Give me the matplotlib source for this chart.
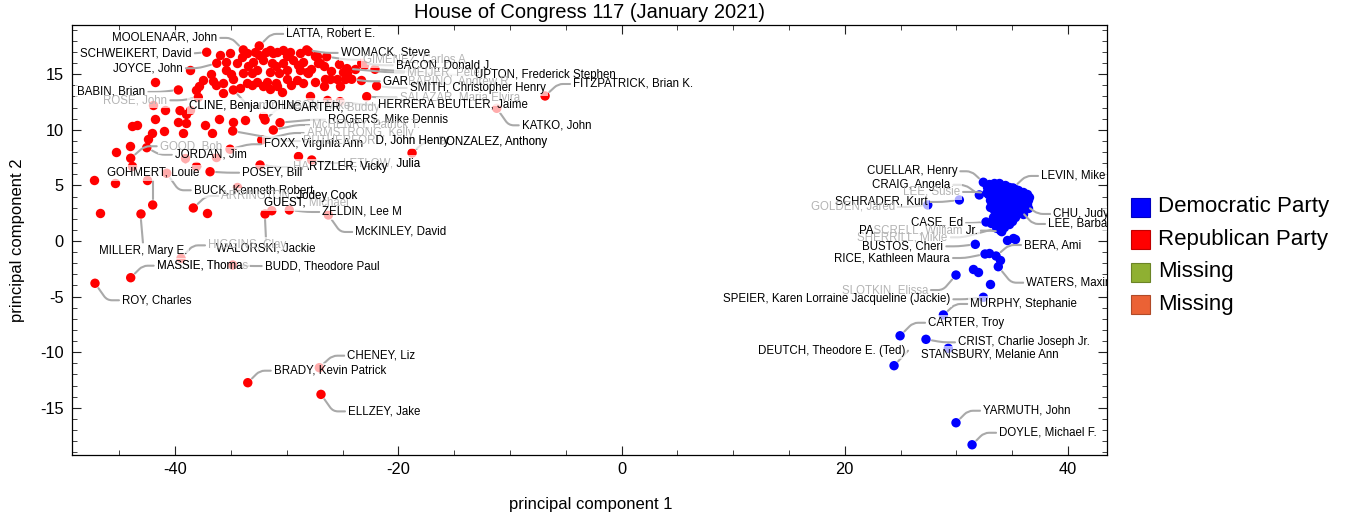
import matplotlib
matplotlib.use('Agg')
import matplotlib.pyplot as plt
import numpy as np
from matplotlib.path import Path
from matplotlib.patches import PathPatch, Rectangle
from matplotlib.transforms import IdentityTransform, Bbox
from matplotlib.font_manager import FontProperties
from matplotlib.ticker import MultipleLocator

# ---------------- data ----------------
title = "House of Congress 117 (January 2021)"
xlabel = "principal component 1"
ylabel = "principal component 2"

legend_names = ["Democratic Party", "Republican Party", "Missing", "Missing"]
legend_colors = ["#0000ff", "#ff0000", "#8fb032", "#eb6235"]

rep_x = [-31.9, -31.5, -30.9, -30.3, -29.7, -28.1, -27.3, -36.0, -35.1, -33.6, -32.8, -31.2, -28.8,
         -35.4, -34.5, -33.0, -32.1, -31.3, -30.3, -29.4, -28.5, -27.2, -24.6, -23.9, -23.1, -32.7,
         -31.5, -30.7, -30.0, -28.8, -28.1, -35.4, -33.9, -33.1,
         -37.5, -36.6, -35.7, -34.8, -33.6, -32.7, -31.8, -31.0, -30.0, -29.1, -28.5, -26.6, -25.5,
         -24.8, -37.9, -36.3, -32.1, -31.5, -30.9, -26.7, -25.2,
         -38.1, -35.7, -33.1, -30.4,
         -27.5, -27.0, -26.7, -28.2, -26.1, -23.3, -27.9, -26.4,
         -38.7, -41.8, -43.9, -43.4, -41.8, -40.9, -39.0, -38.7, -39.7, -39.0, -37.3, -36.1, -41.0,
         -39.3, -42.4, -42.1, -45.3, -44.0, -34.8, -33.7, -32.1, -36.7, -29.0, -43.9, -47.3, -42.0,
         -45.4, -42.55, -39.1, -38.1, -36.3, -46.7, -37.1, -34.5,
         -34.0, -32.5, -30.0, -29.0, -27.8, -26.0, -25.3, -33.5, -31.0, -29.6, -27.5, -34.2, -36.8, -35.0,
         -24.93]
rep_y = [17.0, 17.2, 17.0, 17.2, 17.0, 17.1, 16.6, 16.7, 16.9, 16.9, 17.0, 16.9, 16.9,
         16.1, 16.0, 16.1, 16.3, 16.0, 16.0, 16.3, 16.1, 16.0, 15.1, 15.5, 15.8, 15.4,
         15.2, 15.1, 15.4, 15.4, 15.1, 15.4, 15.1, 15.1,
         14.5, 14.4, 14.2, 14.6, 14.2, 14.3, 14.3, 14.2, 14.6, 14.5, 14.2, 14.6, 14.6,
         14.6, 13.9, 14.0, 13.9, 13.7, 13.9, 13.9, 13.9,
         13.6, 13.3, 14.0, 13.4,
         16.6, 16.0, 15.7, 15.2, 14.6, 14.5, 13.0, 12.7,
         15.4, 14.3, 10.3, 10.4, 11.0, 11.8, 11.4, 11.8, 10.7, 10.6, 10.4, 11.0, 9.9,
         9.7, 9.2, 9.7, 8.0, 8.5, 10.7, 10.9, 11.2, 9.7, 7.6, 6.7, 5.5, 12.2,
         5.24, 5.48, 7.43, 6.74, 7.58, 2.49, 2.55, 4.88,
         16.5, 16.7, 16.6, 15.8, 15.5, 15.3, 15.9, 15.7, 15.7, 14.0, 14.3, 13.8, 15.0, 15.0,
         15.22]

dem_x = [32.9, 33.35, 33.85, 34.35,
         32.75, 33.25, 33.8, 34.3, 34.75, 35.3,
         33.05, 33.5, 34.05, 34.55, 35.0, 35.5, 35.95,
         32.85, 33.45, 33.9, 34.4, 34.95, 35.45, 35.9, 36.3,
         33.25, 33.7, 34.2, 34.7, 35.2, 35.75, 36.2, 36.5,
         33.0, 33.55, 34.0, 34.5, 35.05, 35.5, 36.0, 36.45,
         33.3, 33.8, 34.3, 34.85, 35.3, 35.8, 36.3,
         33.0, 33.5, 34.05, 34.5, 35.0, 35.55, 36.4,
         33.4, 33.9, 34.4, 34.95, 35.4,
         33.6, 34.1, 34.6, 35.1, 35.6, 36.0,
         33.3, 33.85, 34.3, 34.8, 35.3,
         33.5, 34.0, 34.5, 35.0,
         33.1, 33.7, 34.2, 34.7,
         33.9, 34.3, 33.8,
         34.5, 35.1, 35.3,
         32.9, 33.9, 31.5, 31.97, 33.0]
dem_y = [5.15, 5.25, 5.2, 5.05,
         4.85, 4.9, 4.95, 4.8, 4.9, 4.7,
         4.55, 4.6, 4.5, 4.6, 4.45, 4.55, 4.4,
         4.25, 4.3, 4.2, 4.35, 4.2, 4.25, 4.1, 4.2,
         3.95, 4.0, 3.9, 4.05, 3.9, 3.95, 3.85, 3.95,
         3.65, 3.7, 3.6, 3.75, 3.6, 3.7, 3.55, 3.65,
         3.35, 3.4, 3.3, 3.45, 3.3, 3.4, 3.35,
         3.08, 3.05, 3.1, 3.0, 3.1, 3.05, 3.0,
         2.8, 2.75, 2.85, 2.7, 2.8,
         2.5, 2.45, 2.55, 2.45, 2.5, 2.4,
         2.2, 2.15, 2.25, 2.1, 2.2,
         1.9, 1.85, 1.95, 1.8,
         1.6, 1.55, 1.6, 1.5,
         1.0, 1.25, 1.3,
         0.08, 0.24, 0.15,
         -1.05, -1.71, -2.55, -2.76, -3.87]

lab_names = ["MOOLENAAR, John", "LATTA, Robert E.", "SCHWEIKERT, David", "WOMACK, Steve",
             "GIMENEZ, Carlos A.", "JOYCE, John", "BACON, Donald J.", "MEIJER, Peter",
             "UPTON, Frederick Stephen", "FITZPATRICK, Brian K.", "GARBARINO, Andrew R.",
             "SMITH, Christopher Henry", "BABIN, Brian", "ROSE, John", "SALAZAR, Maria Elvira",
             "CLINE, Benjamin Lee", "JOHNSON, Mike", "CARTER, Buddy", "HERRERA BEUTLER, Jaime",
             "KATKO, John", "ROGERS, Mike Dennis", "McHENRY, Patrick T.", "ARMSTRONG, Kelly",
             "FOXX, Virginia Ann", "RUTHERFORD, John Henry", "GONZALEZ, Anthony", "LETLOW, Julia",
             "HARTZLER, Vicky", "POSEY, Bill", "GOOD, Bob", "JORDAN, Jim", "GOHMERT, Louie",
             "BUCK, Kenneth Robert", "ARRINGTON, Jodey Cook", "GUEST, Michael", "ZELDIN, Lee M",
             "McKINLEY, David", "WALORSKI, Jackie", "MILLER, Mary E.", "HIGGINS, Clay",
             "MASSIE, Thomas", "BUDD, Theodore Paul", "ROY, Charles", "CHENEY, Liz",
             "BRADY, Kevin Patrick", "ELLZEY, Jake",
             "CUELLAR, Henry", "LEVIN, Mike", "CRAIG, Angela", "LEE, Susie", "SCHRADER, Kurt",
             "GOLDEN, Jared", "CHU, Judy", "LEE, Barbara", "CASE, Ed", "PASCRELL, William Jr.",
             "SHERRILL, Mikie", "BUSTOS, Cheri", "BERA, Ami", "RICE, Kathleen Maura",
             "WATERS, Maxine", "SLOTKIN, Elissa", "SPEIER, Karen Lorraine Jacqueline (Jackie)",
             "MURPHY, Stephanie", "CARTER, Troy", "CRIST, Charlie Joseph Jr.",
             "DEUTCH, Theodore E. (Ted)", "STANSBURY, Melanie Ann", "YARMUTH, John",
             "DOYLE, Michael F."]
lab_party = ["R"] * 46 + ["D"] * 24
lab_x = [-33.89, -32.46, -37.17, -28.21, -26.42, -36.27, -23.28, -24.60, -22.09, -6.85, -24.18,
         -21.94, -39.71, -37.92, -22.83, -39.56, -34.78, -31.94, -25.22, -11.18, -30.60, -31.20,
         -32.24, -35.08, -34.84, -18.77, -27.76, -32.39, -36.87, -43.98, -42.54, -42.01, -40.75,
         -38.37, -31.34, -29.77, -26.27, -31.94, -43.06, -39.47, -43.98, -34.84, -47.18, -27.08,
         -33.49, -26.93,
         32.42, 35.08, 32.06, 32.75, 30.27, 27.44, 36.16, 35.71, 32.66, 34.07, 33.62, 31.70,
         33.56, 32.57, 33.76, 29.97, 32.42, 28.84, 24.96, 27.28, 24.42, 29.28, 29.97, 31.41]
lab_y = [17.18, 17.54, 16.97, 17.18, 16.57, 15.98, 15.98, 15.50, 15.44, 13.04, 14.54, 13.94,
         13.58, 12.92, 12.98, 11.72, 13.58, 10.88, 12.53, 11.93, 10.64, 9.98, 9.08, 8.25, 9.89,
         7.91, 7.28, 6.83, 6.23, 7.44, 8.39, 3.24, 6.09, 2.97, 2.72, 2.79, 2.34, 2.43, 2.43,
         -1.56, -3.30, -2.16, -3.80, -11.39, -12.74, -13.79,
         5.28, 4.77, 4.14, 4.32, 3.69, 3.24, 3.24, 2.79, 1.71, 0.84, 1.14, -0.30, -1.35, -1.17,
         -2.31, -3.06, -5.06, -6.65, -8.52, -8.84, -11.21, -9.65, -16.34, -18.32]

# ---------------- label layout (pixel offsets from point, anchor, leader mode) -------------
LAYOUT = {
    "MOOLENAAR, John": (-26, 12, "right", "h"), "LATTA, Robert E.": (27, 12, "left", "h"),
    "SCHWEIKERT, David": (-15, -1, "right", "h"), "WOMACK, Steve": (34, -3, "left", "h"),
    "GIMENEZ, Carlos A.": (36, -3, "left", "h"), "JOYCE, John": (-34, -5, "right", "h"),
    "BACON, Donald J.": (34, -2, "left", "h"), "MEIJER, Peter": (60, -4, "left", "h"),
    "UPTON, Frederick Stephen": (100, -6, "left", "h"),
    "FITZPATRICK, Brian K.": (28, 12, "left", "h"), "GARBARINO, Andrew R.": (31, -2, "left", "h"),
    "SMITH, Christopher Henry": (33, -2, "left", "h"), "BABIN, Brian": (-33, -2, "right", "h"),
    "ROSE, John": (-31, -3, "right", "h"), "SALAZAR, Maria Elvira": (33, -1, "left", "h"),
    "CLINE, Benjamin Lee": (9, 5, "left", "none"), "JOHNSON, Mike": (30, -16, "left", "h"),
    "CARTER, Buddy": (28, 12, "left", "h"), "HERRERA BEUTLER, Jaime": (38, -3, "left", "h"),
    "KATKO, John": (25, -17, "left", "h"), "ROGERS, Mike Dennis": (48, 3, "left", "h"),
    "McHENRY, Patrick T.": (39, 5, "left", "h"), "ARMSTRONG, Kelly": (45, 7, "left", "h"),
    "FOXX, Virginia Ann": (34, 5, "left", "h"), "RUTHERFORD, John Henry": (70, -10, "left", "h"),
    "GONZALEZ, Anthony": (25, 11, "left", "h"), "LETLOW, Julia": (31, -3, "left", "h"),
    "HARTZLER, Vicky": (33, -2, "left", "h"), "POSEY, Bill": (32, -1, "left", "h"),
    "GOOD, Bob": (29, 12, "left", "h"), "JORDAN, Jim": (28, -7, "left", "h"),
    "GOHMERT, Louie": (0, 32, "center", "v"), "BUCK, Kenneth Robert": (27, -17, "left", "h"),
    "ARRINGTON, Jodey Cook": (28, 12, "left", "h"), "GUEST, Michael": (-8, 8, "left", "none"),
    "ZELDIN, Lee M": (33, -2, "left", "h"), "McKINLEY, David": (27, -17, "left", "h"),
    "WALORSKI, Jackie": (1, -35, "center", "v"), "MILLER, Mary E.": (2, -37, "center", "v"),
    "HIGGINS, Clay": (27, 13, "left", "h"), "MASSIE, Thomas": (26, 12, "left", "h"),
    "BUDD, Theodore Paul": (32, -1, "left", "h"), "ROY, Charles": (27, -17, "left", "h"),
    "CHENEY, Liz": (28, 12, "left", "h"), "BRADY, Kevin Patrick": (26, 12, "left", "h"),
    "ELLZEY, Jake": (27, -17, "left", "h"),
    "CUELLAR, Henry": (-26, 11, "right", "h"), "LEVIN, Mike": (28, 12, "left", "h"),
    "CRAIG, Angela": (-29, 10, "right", "h"), "LEE, Susie": (-27, 1, "right", "h"),
    "SCHRADER, Kurt": (-32, -2, "right", "h"), "GOLDEN, Jared": (-33, -2, "right", "h"),
    "CHU, Judy": (28, -9, "left", "h"), "LEE, Barbara": (28, -14, "left", "h"),
    "CASE, Ed": (-23, -1, "right", "h"), "PASCRELL, William Jr.": (-24, 1, "right", "h"),
    "SHERRILL, Mikie": (-49, -9, "right", "h"), "BUSTOS, Cheri": (-32, -2, "right", "h"),
    "BERA, Ami": (28, 11, "left", "h"), "RICE, Kathleen Maura": (-35, -4, "right", "h"),
    "WATERS, Maxine": (28, -16, "left", "h"), "SLOTKIN, Elissa": (-28, -15, "right", "h"),
    "SPEIER, Karen Lorraine Jacqueline (Jackie)": (-33, -2, "right", "h"),
    "MURPHY, Stephanie": (27, 11, "left", "h"), "CARTER, Troy": (28, 13, "left", "h"),
    "CRIST, Charlie Joseph Jr.": (32, -3, "left", "h"),
    "DEUTCH, Theodore E. (Ted)": (11, 15, "right", "h"),
    "STANSBURY, Melanie Ann": (-27, -6, "left", "none"),
    "YARMUTH, John": (27, 12, "left", "h"), "DOYLE, Michael F.": (27, 12, "left", "h"),
}
# labels drawn faded (gray); listed parts stay dark
FADE = {
    "GIMENEZ, Carlos A.": [], "MEIJER, Peter": [], "GARBARINO, Andrew R.": [("pre", "GAR")],
    "ROSE, John": [], "SALAZAR, Maria Elvira": [], "CLINE, Benjamin Lee": [("pre", "CLINE, Benja")],
    "JOHNSON, Mike": [("pre", "JOHN")], "CARTER, Buddy": [("pre", "CARTER,")],
    "McHENRY, Patrick T.": [], "ARMSTRONG, Kelly": [],
    "RUTHERFORD, John Henry": [("suf", "D, John Henry")],
    "GONZALEZ, Anthony": [("suf", "ONZALEZ, Anthony")], "LETLOW, Julia": [("suf", "Julia")],
    "HARTZLER, Vicky": [("suf", "RTZLER, Vicky")], "GOOD, Bob": [],
    "ARRINGTON, Jodey Cook": [("suf", "Jodey Cook")], "GUEST, Michael": [("pre", "GUEST,")],
    "HIGGINS, Clay": [], "MASSIE, Thomas": [("pre", "MASSIE, Thoma")],
    "LEE, Susie": [], "GOLDEN, Jared": [], "PASCRELL, William Jr.": [("pre", "PA"), ("suf", "Jr.")],
    "SHERRILL, Mikie": [], "SLOTKIN, Elissa": [],
}

# ---------------- figure ----------------
plt.rcParams['font.family'] = ['Liberation Sans', 'DejaVu Sans']
plt.rcParams['axes.unicode_minus'] = False
W, H, DPI = 1351, 521, 100
fig = plt.figure(figsize=(W / DPI, H / DPI), dpi=DPI)
ax = fig.add_axes([72 / W, 1 - 455 / H, (1107 - 72) / W, (455 - 25) / H])
ax.set_xlim(-49.24, 43.5)
ax.set_ylim(-19.24, 19.42)
ax.xaxis.set_major_locator(MultipleLocator(20))
ax.xaxis.set_minor_locator(MultipleLocator(5))
ax.yaxis.set_major_locator(MultipleLocator(5))
ax.yaxis.set_minor_locator(MultipleLocator(1))
ax.tick_params(which='both', direction='in', top=True, right=True, labelsize=11.8, color='#222222')
ax.tick_params(which='major', length=6.5, width=0.8)
ax.tick_params(which='minor', length=3.8, width=0.6)
ax.tick_params(axis='x', pad=5)
ax.tick_params(axis='y', pad=6)
for s in ax.spines.values():
    s.set_linewidth(0.9)

RED, BLUE = "#ff0000", "#0000ff"
MS = 46
ax.scatter(rep_x, rep_y, s=MS, c=RED, linewidths=0, zorder=2)
ax.scatter(dem_x, dem_y, s=MS, c=BLUE, linewidths=0, zorder=2)
lab_cols = [RED if p == "R" else BLUE for p in lab_party]
ax.scatter(lab_x, lab_y, s=MS, c=lab_cols, linewidths=0, zorder=2)

fig.text(590 / W, 1 - 12 / H, title, ha='center', va='center', fontsize=14.5)
fig.text(591 / W, 1 - 505 / H, xlabel, ha='center', va='center', fontsize=12)
fig.text(18 / W, 1 - 240 / H, ylabel, ha='center', va='center', fontsize=12, rotation=90)

# legend
for i, (nm, col) in enumerate(zip(legend_names, legend_colors)):
    yc = 207 + i * 32.5
    rgb = np.array(matplotlib.colors.to_rgb(col)) * 0.75
    fig.patches.append(Rectangle((1131 / W, 1 - (yc + 9.5) / H), 19 / W, 19 / H,
                                 transform=fig.transFigure, facecolor=col, edgecolor=rgb, lw=0.8))
    fig.text(1158 / W, 1 - yc / H, nm, ha='left', va='center', fontsize=16)

# ---------------- labels ----------------
LFS = 8.3
GRAY_TXT = "#b4b4b4"
LINE_C = "#a9a9a9"
prop = FontProperties(family=['Liberation Sans', 'DejaVu Sans'], size=LFS)
fig.canvas.draw()
renderer = fig.canvas.get_renderer()


def tw(s):
    w, h, d = renderer.get_text_width_height_descent(s, prop, ismath=False)
    return w


_, TH, _ = renderer.get_text_width_height_descent("Ag", prop, ismath=False)
axbb = ax.bbox
ID = IdentityTransform()


def leader(P, left, right, yc, ha, mode):
    if mode == "none":
        return
    P = np.array(P, float)
    if mode == "v":
        cx = (left + right) / 2
        if yc > P[1]:
            E = np.array([cx, yc - TH / 2 - 2]); S = np.array([P[0], P[1] + 6])
        else:
            E = np.array([cx, yc + TH / 2 + 2]); S = np.array([P[0], P[1] - 6])
        verts = [S, E]; codes = [Path.MOVETO, Path.LINETO]
    else:
        if ha == "left":
            E = np.array([left - 3, yc]); sgn = -1
        else:
            E = np.array([right + 3, yc]); sgn = 1
        room = (P[0] - E[0]) * sgn
        L = min(12, max(0, room - 12))
        B = E + np.array([sgn * L, 0])
        v = B - P
        n = np.hypot(*v)
        if n < 7:
            return
        S = P + v / n * 6
        dSB = np.hypot(*(S - B))
        if L > 2 and dSB > 3:
            r = 5
            M1 = B + (S - B) / dSB * min(r, dSB / 2)
            M2 = B + (E - B) / L * min(r, L / 2)
            verts = [S, M1, B, M2, E]
            codes = [Path.MOVETO, Path.LINETO, Path.CURVE3, Path.CURVE3, Path.LINETO]
        else:
            verts = [S, E]; codes = [Path.MOVETO, Path.LINETO]
    pp = PathPatch(Path(verts, codes), transform=ID, facecolor='none', edgecolor=LINE_C,
                   lw=1.5, capstyle='round', joinstyle='round', zorder=2.5)
    pp.set_clip_box(axbb)
    ax.add_patch(pp)


for name, x, y in zip(lab_names, lab_x, lab_y):
    dx, dy, ha, mode = LAYOUT[name]
    P = ax.transData.transform((x, y))
    w = tw(name)
    ax_ = P[0] + dx
    if ha == "left":
        left = ax_
    elif ha == "right":
        left = ax_ - w
    else:
        left = ax_ - w / 2
    right = left + w
    yc = P[1] + dy
    leader(P, left, right, yc, ha, mode)
    box = Rectangle((left - 2, yc - TH / 2 - 2), w + 4, TH + 4, transform=ID,
                    facecolor='white', edgecolor='none', alpha=0.68, zorder=3)
    box.set_clip_box(axbb)
    ax.add_patch(box)
    fade = FADE.get(name, None)
    base_col = 'black' if fade is None else GRAY_TXT
    t = ax.annotate(name, xy=(x, y), xycoords='data', xytext=(left - P[0], dy),
                    textcoords='offset pixels', ha='left', va='center', fontsize=LFS,
                    color=base_col, zorder=4, annotation_clip=False)
    t.set_clip_on(True)
    t.set_clip_box(axbb)
    if fade:
        for kind, sub in fade:
            if kind == "pre":
                x0, x1 = left - 3, left + tw(sub) + 0.6
            else:
                x0, x1 = right - tw(sub) - 0.6, right + 3
            x1 = min(x1, axbb.x1)
            t2 = ax.annotate(name, xy=(x, y), xycoords='data', xytext=(left - P[0], dy),
                             textcoords='offset pixels', ha='left', va='center', fontsize=LFS,
                             color='black', zorder=4.5, annotation_clip=False)
            t2.set_clip_on(True)
            t2.set_clip_box(Bbox([[x0, yc - 20], [x1, yc + 20]]))

fig.savefig("out.png", dpi=DPI)
